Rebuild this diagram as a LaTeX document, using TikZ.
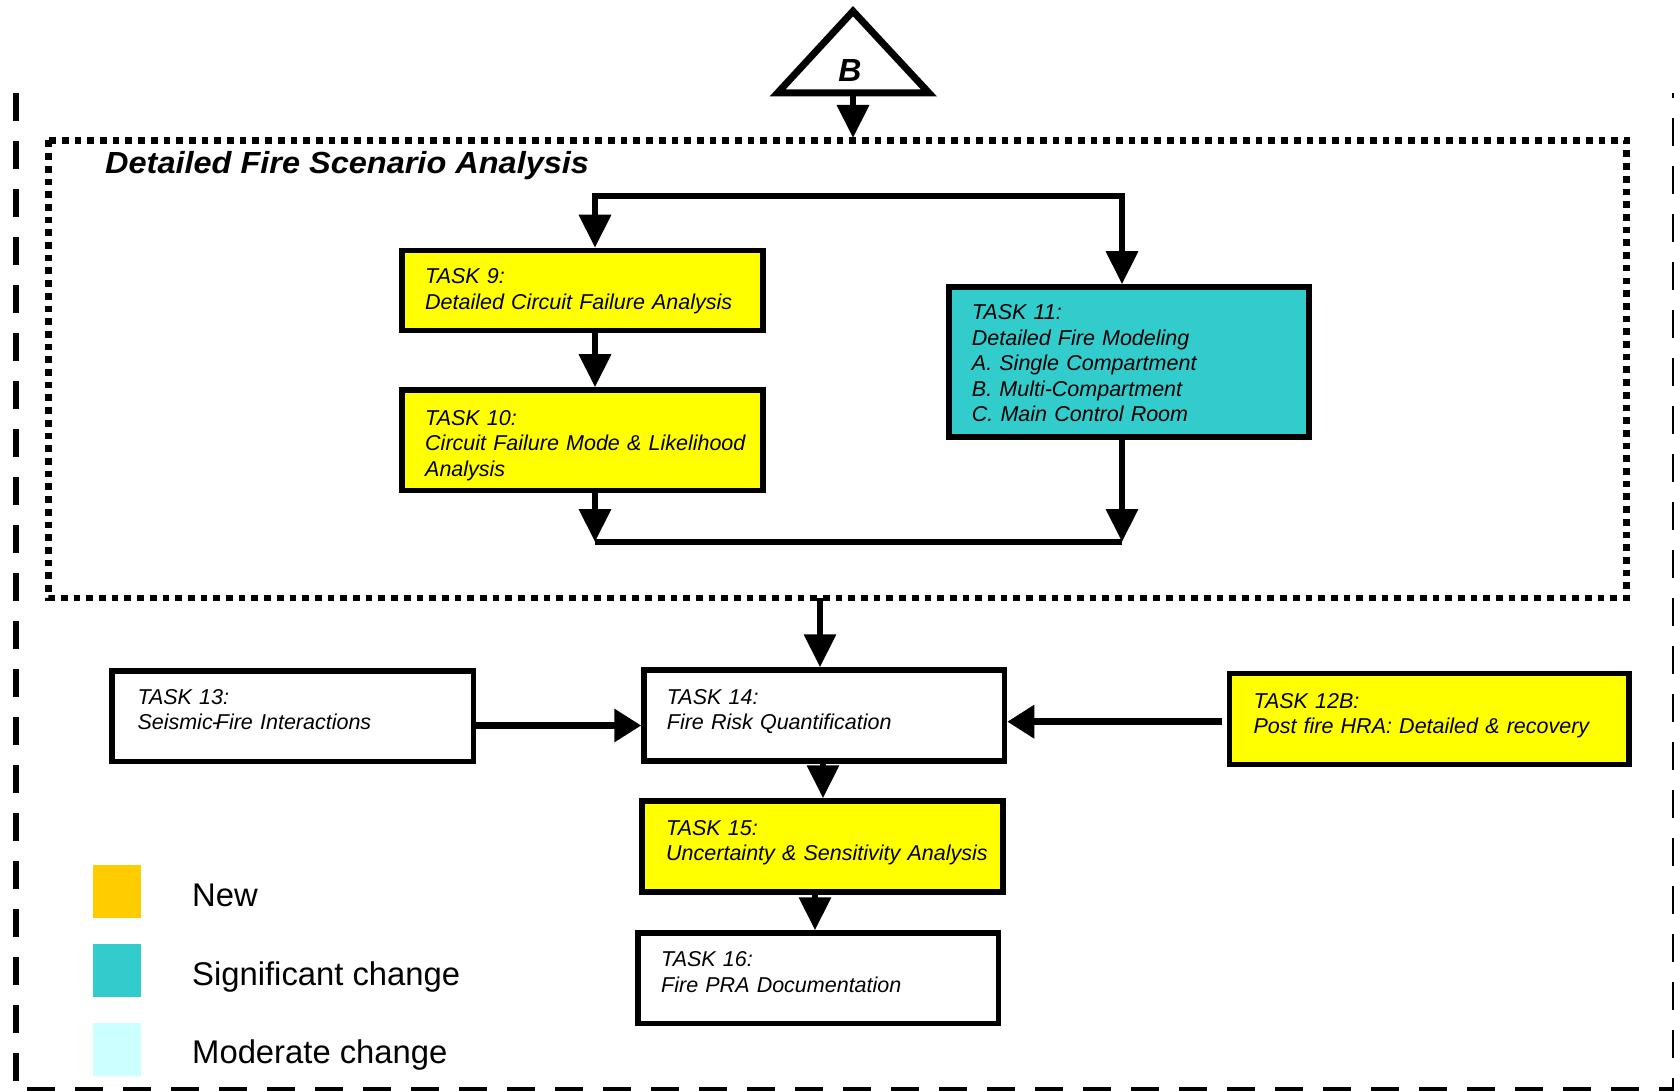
\documentclass[tikz,border=0pt]{standalone}
\usepackage{fontspec}
\usepackage{graphicx}
\setmainfont{Liberation Sans}
\usetikzlibrary{arrows.meta,calc}
\definecolor{tyellow}{HTML}{FFFF00}
\definecolor{tteal}{HTML}{33CCCC}
\definecolor{tgold}{HTML}{FFCC00}
\definecolor{tcyan}{HTML}{CCFFFF}
\begin{document}
\begin{tikzpicture}[x=1pt,y=-1pt,
  taskbox/.style={draw, line width=5.5pt, rectangle, inner sep=0pt},
  tasktext/.style={anchor=base west, inner sep=0pt, align=left, text width=420pt,
    font=\fontsize{21.5}{25.5}\selectfont\itshape},
  conn/.style={line width=6.5pt},
  arr/.style={conn, -{Triangle[length=33pt,width=31pt]}},
  harr/.style={conn, -{Triangle[length=27pt,width=32pt]}},
  dotframe/.style={line width=6.7pt, dash pattern=on 6.7pt off 6pt},
  outerframe/.style={line width=6.7pt, dash pattern=on 28pt off 20pt},
  legsq/.style={draw=none, inner sep=0pt, minimum width=48.3pt, minimum height=52.7pt},
  legtext/.style={anchor=base west, inner sep=0pt, font=\fontsize{32.8}{38}\selectfont},
]
\useasboundingbox (0,0) rectangle (1674,1091);

% outer dashed frame
\draw[outerframe] (16,93) -- (16,1090) -- (1675,1090) -- (1675,93);

% dotted frame
\draw[dotframe] (48.5,140.5) rectangle (1626.7,598);
\node[anchor=base west, inner sep=0pt, font=\fontsize{30.5}{36}\selectfont\bfseries\itshape] (title) at (105,173.5)
  {\scalebox{1.065}[1]{Detailed Fire Scenario Analysis}};

% triangle B
\draw[line width=7pt, miter limit=10] (853,11.2) -- (929,93) -- (777.5,93) -- cycle;
\node[anchor=base, inner sep=0pt, font=\fontsize{32}{38}\selectfont\bfseries\itshape] (B) at (850,81.7) {B};
\coordinate (bbase) at (853,93);
\coordinate (ftop) at (853,138);
\draw[arr] (bbase) -- (ftop);

% task boxes
\node[taskbox, fill=tyellow, minimum width=361pt, minimum height=80pt] (t9) at (582.5,290.5) {};
\node[taskbox, fill=tyellow, minimum width=361pt, minimum height=100.5pt] (t10) at (582.5,440.25) {};
\node[taskbox, fill=tteal, minimum width=360pt, minimum height=150pt] (t11) at (1129,362) {};
\node[taskbox, fill=white, minimum width=361.7pt, minimum height=90.3pt] (t13) at (292.85,716.15) {};
\node[taskbox, fill=white, minimum width=360.5pt, minimum height=91pt] (t14) at (824.25,715.5) {};
\node[taskbox, fill=tyellow, minimum width=399.3pt, minimum height=91pt] (t12B) at (1429.15,719) {};
\node[taskbox, fill=tyellow, minimum width=361pt, minimum height=91pt] (t15) at (822.5,846.5) {};
\node[taskbox, fill=white, minimum width=360.7pt, minimum height=90.5pt] (t16) at (818.35,978.25) {};

% task texts
\node[tasktext] (t9txt) at (425,284) {TASK 9:\\Detailed Circuit Failure Analysis};
\node[tasktext] (t10txt) at (425,425) {TASK 10:\\Circuit Failure Mode \& Likelihood\\Analysis};
\node[tasktext] (t11txt) at (971.7,320) {TASK 11:\\Detailed Fire Modeling\\A. Single Compartment\\B. Multi-Compartment\\C. Main Control Room};
\node[tasktext] (t13txt) at (137.3,704.3) {TASK 13:\\Seismic\kern-1pt-\kern-3pt Fire Interactions};
\node[tasktext] (t14txt) at (666.7,704) {TASK 14:\\Fire Risk Quantification};
\node[tasktext] (t12Btxt) at (1253.3,708.3) {TASK 12B:\\Post fire HRA: Detailed \& recovery};
\node[tasktext] (t15txt) at (666,835) {TASK 15:\\Uncertainty \& Sensitivity Analysis};
\node[tasktext] (t16txt) at (661,966.7) {TASK 16:\\Fire PRA Documentation};

% connectors in dotted frame
\coordinate (c1) at (595,196);
\coordinate (c2) at (1122,196);
\coordinate (c3) at (595,542);
\coordinate (c4) at (1122,542);
\draw[arr] (c2) -- (c1) -- (c1 |- t9.north);
\draw[arr] (c1) -- (c2) -- (c2 |- t11.north);
\draw[arr] (c1 |- t9.south) -- (c1 |- t10.north);
\draw[conn] (c3) -- (c4);
\draw[arr] (c1 |- t10.south) -- (c3);
\draw[arr] (c2 |- t11.south) -- (c4);

% lower connectors
\coordinate (fbot) at (820,598);
\draw[arr] (fbot) -- (fbot |- t14.north);
\coordinate (x823) at (823,0);
\draw[arr] (t14.south -| x823) -- (t15.north -| x823);
\coordinate (x815) at (815,0);
\draw[arr] (t15.south -| x815) -- (t16.north -| x815);
\coordinate (h1) at (0,725.5);
\draw[harr] (t13.east |- h1) -- (t14.west |- h1);
\coordinate (h2) at (0,721.7);
\draw[harr, shorten <=5pt] (t12B.west |- h2) -- (t14.east |- h2);

% legend
\node[legsq, fill=tgold] (sqnew) at (116.85,891.35) {};
\node[legsq, fill=tteal] (sqsig) at (117.15,970.35) {};
\node[legsq, fill=tcyan] (sqmod) at (117,1049.35) {};
\node[legtext] (lnew) at (192,906.7) {New};
\node[legtext] (lsig) at (192,985) {Significant change};
\node[legtext] (lmod) at (192,1063.3) {Moderate change};
\end{tikzpicture}
\end{document}
